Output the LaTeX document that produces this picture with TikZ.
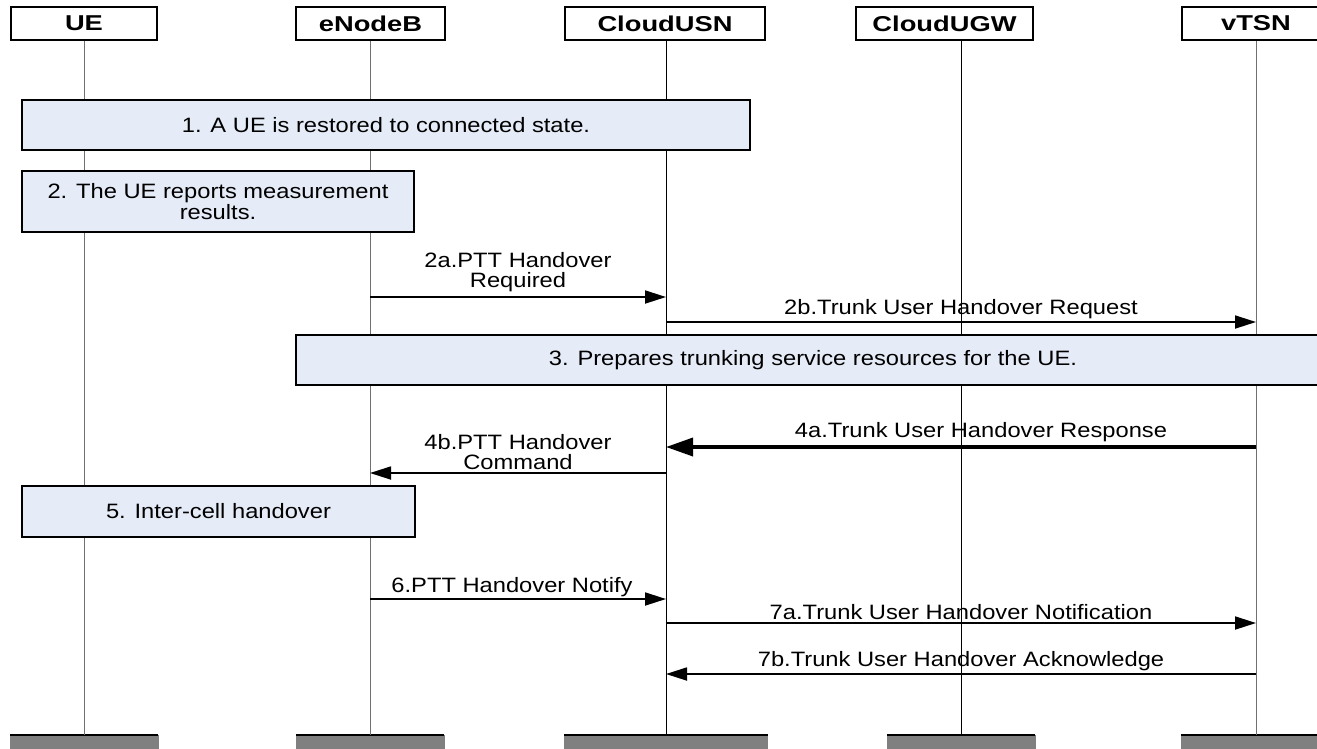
\documentclass[tikz,border=0pt]{standalone}
\usepackage{fontspec}
\setmainfont{Liberation Sans}[FakeStretch=1.14]
\newfontfamily\hdrfont{Liberation Sans}[FakeStretch=1.27]
\usetikzlibrary{arrows.meta, positioning}
\definecolor{stepfill}{HTML}{E6ECF7}
\definecolor{endfill}{HTML}{808080}
\definecolor{lifegray}{HTML}{707070}

\begin{document}
\begin{tikzpicture}[
  x=1pt, y=-1pt,
  entity/.style={
    draw,
    line width=1.3pt,
    fill=white,
    minimum height=33pt,
    inner sep=0pt,
    font=\hdrfont\bfseries\fontsize{21.5}{22}\selectfont,
  },
  entityend/.style={
    draw=endfill,
    fill=endfill,
    minimum height=22pt,
    inner sep=0pt,
    append after command={
      (\tikzlastnode.north west) edge[draw=black, line width=2pt] (\tikzlastnode.north east)
    },
  },
  lifeline/.style={line width=0.9pt},
  stepbox/.style={
    draw,
    line width=1.3pt,
    fill=stepfill,
    inner sep=0pt,
    align=center,
    font=\fontsize{20.8}{21}\selectfont,
  },
  msg/.style={
    line width=1.8pt,
    -{Triangle[length=21pt,width=13pt]},
  },
  msgbold/.style={
    line width=3.6pt,
    -{Triangle[length=27pt,width=18pt]},
  },
  msglabel/.style={
    align=center,
    inner sep=1pt,
    font=\fontsize{20.8}{20}\selectfont,
  }
  ]

  \useasboundingbox (0,0) rectangle (1317,748);

  % entities at the top
  \node[entity, minimum width=146pt] (ue)    at (84,23.5)    {UE};
  \node[entity, minimum width=149pt] (enb)   at (370.5,23.5) {eNodeB};
  \node[entity, minimum width=200pt] (usn)   at (665,23.5)   {CloudUSN};
  \node[entity, minimum width=177pt] (ugw)   at (944.5,23.5) {CloudUGW};
  \node[entity, minimum width=148pt] (vtsn)  at (1256,23.5)  {vTSN};

  % entities at the bottom
  \node[entityend, minimum width=148pt] (ueEnd)   at (84,746)    {};
  \node[entityend, minimum width=148pt] (enbEnd)  at (370,746)   {};
  \node[entityend, minimum width=203pt] (usnEnd)  at (666,746)   {};
  \node[entityend, minimum width=148pt] (ugwEnd)  at (961,746)   {};
  \node[entityend, minimum width=150pt] (vtsnEnd) at (1256,746)  {};

  % lifelines
  \foreach \top/\bot/\col in {ue/ueEnd/lifegray, enb/enbEnd/lifegray, usn/usnEnd/black, ugw/ugwEnd/black, vtsn/vtsnEnd/lifegray} {
    \draw[lifeline, draw=\col] (\bot.north |- \top.south) -- (\bot.north);
  }

  % procedure boxes
  \node[stepbox, minimum width=728pt, minimum height=50pt] (step1) at (386,125)
    {1. A UE is restored to connected state.};
  \node[stepbox, minimum width=392pt, minimum height=61pt] (step2) at (218,201.5)
    {2. The UE reports measurement\\results.};
  \node[stepbox, minimum width=1034pt, minimum height=50pt] (step3) at (813,360)
    {3. Prepares trunking service resources for the UE.};
  \node[stepbox, minimum width=393pt, minimum height=51pt] (step5) at (218.5,511.5)
    {5. Inter-cell handover};

  % messages
  \draw[msg] (enbEnd.north |- 0,297) -- node[msglabel, above=3pt] {2a.PTT Handover\\Required} (usnEnd.north |- 0,297);
  \draw[msg] (usnEnd.north |- 0,322) -- node[msglabel, above=1pt] {2b.Trunk User Handover Request} (vtsnEnd.north |- 0,322);

  \draw[msgbold] (vtsnEnd.north |- 0,447) -- node[msglabel, above=2pt, xshift=20pt] {4a.Trunk User Handover Response} (usnEnd.north |- 0,447);
  \draw[msg] (usnEnd.north |- 0,473) -- node[msglabel, above=1pt] {4b.PTT Handover\\Command} (enbEnd.north |- 0,473);

  \draw[msg] (enbEnd.north |- 0,599) -- node[msglabel, above=0pt, xshift=-6pt] {6.PTT Handover Notify} (usnEnd.north |- 0,599);
  \draw[msg] (usnEnd.north |- 0,623) -- node[msglabel, above=1pt] {7a.Trunk User Handover Notification} (vtsnEnd.north |- 0,623);
  \draw[msg] (vtsnEnd.north |- 0,674) -- node[msglabel, above=1pt] {7b.Trunk User Handover Acknowledge} (usnEnd.north |- 0,674);

\end{tikzpicture}
\end{document}
